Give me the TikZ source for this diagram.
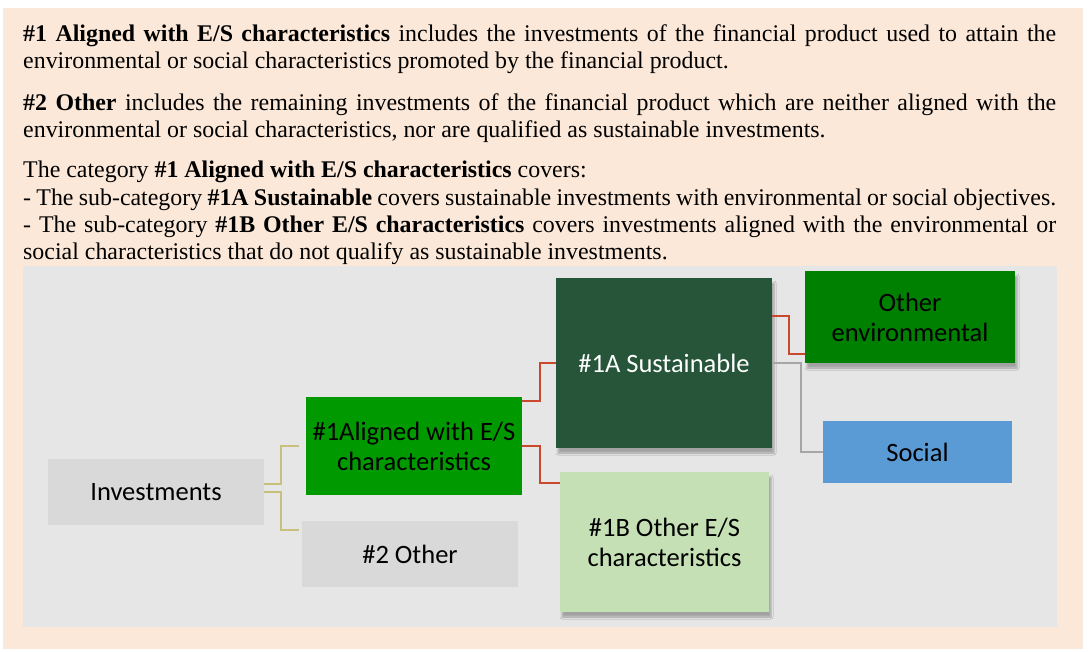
\documentclass[tikz,border=0pt]{standalone}
\usepackage{fontspec}
\setmainfont{Liberation Serif}
\newfontfamily\boxfont{Carlito}
\usetikzlibrary{calc,shadows.blur}
\definecolor{beige}{HTML}{FBE8D8}
\definecolor{panel}{HTML}{E6E6E6}
\definecolor{boxgray}{HTML}{D9D9D9}
\definecolor{brightgreen}{HTML}{009900}
\definecolor{darkgreen}{HTML}{26553A}
\definecolor{lightgreen}{HTML}{C5E0B4}
\definecolor{envgreen}{HTML}{008000}
\definecolor{socblue}{HTML}{5B9BD5}
\definecolor{redline}{HTML}{C8492C}
\definecolor{tanline}{HTML}{C9C07E}
\definecolor{grayline}{HTML}{A6A6A6}
\tikzset{
  txtline/.style={anchor=base west, inner sep=0pt, font=\fontsize{23.9}{27}\selectfont},
  box/.style={inner sep=0pt, align=center, font=\boxfont\fontsize{26.5}{30}\selectfont},
  shad/.style={blur shadow={shadow xshift=2pt, shadow yshift=-5pt, shadow blur radius=2pt, shadow blur steps=5, shadow opacity=30}},
  conn/.style={line width=1.5pt},
}
\begin{document}
\begin{tikzpicture}[x=1pt,y=-1pt]
\fill[white] (0,0) rectangle (1090,652);
\useasboundingbox (0,0) rectangle (1090,652);
\fill[beige] (3,8) rectangle (1083,649);
\fill[panel] (23,266) rectangle (1057,627);

\node[txtline] (l1) at (23,42) {\makebox[1033pt][s]{\textbf{\#1 Aligned with E/S characteristics} includes the investments of the financial product used to attain the}};
\node[txtline] (l2) at (23,69) {environmental or social characteristics promoted by the financial product.};
\node[txtline] (l3) at (23,111) {\makebox[1033pt][s]{\textbf{\#2 Other} includes the remaining investments of the financial product which are neither aligned with the}};
\node[txtline] (l4) at (23,138) {environmental or social characteristics, nor are qualified as sustainable investments.};
\node[txtline] (l5) at (23,178) {The category \textbf{\#1 Aligned with E/S characteristics} covers:};
\node[txtline] (l6) at (23,206) {\makebox[1033pt][s]{- The sub-category \textbf{\#1A Sustainable} covers sustainable investments with environmental or social objectives.}};
\node[txtline] (l7) at (23,233) {\makebox[1033pt][s]{- The sub-category \textbf{\#1B Other E/S characteristics} covers investments aligned with the environmental or}};
\node[txtline] (l8) at (23,260) {social characteristics that do not qualify as sustainable investments.};

\node[box, fill=boxgray, minimum width=216pt, minimum height=66pt] (inv) at (156,492) {Investments};
\node[box, fill=brightgreen, minimum width=216pt, minimum height=98pt] (al) at (414,446) {\#1Aligned with E/S\\characteristics};
\node[box, fill=boxgray, minimum width=216pt, minimum height=66pt] (o2) at (410,554) {\#2 Other};
\node[box, shad, fill=darkgreen, text=white, minimum width=216pt, minimum height=170pt] (s1a) at (664,363) {\#1A Sustainable};
\node[box, shad, fill=lightgreen, minimum width=209pt, minimum height=140pt] (s1b) at (664.5,542) {\#1B Other E/S\\characteristics};
\node[box, shad, fill=envgreen, minimum width=210pt, minimum height=92pt] (env) at (910,317) {Other\\environmental};
\node[box, fill=socblue, minimum width=189pt, minimum height=62pt] (soc) at (917.5,452) {Social};

\draw[conn, tanline] ($(inv.east)+(0,-8)$) -- ++(17,0) |- ($(al.west)+(-7,0)$);
\draw[conn, tanline] (inv.east) -- ++(17,0) |- ($(o2.west)+(-3,-24)$);
\draw[conn, redline] ($(al.east)+(0,-45)$) -- ++(18,0) |- (s1a.west);
\draw[conn, redline] (al.east) -- ++(18,0) |- ($(s1b.west)+(0,-59)$);
\draw[conn, redline] ($(s1a.east)+(0,-47)$) -- ++(17,0) |- ($(env.west)+(0,37)$);
\draw[conn, grayline] (s1a.east) -- ++(29,0) |- (soc.west);
\end{tikzpicture}
\end{document}
